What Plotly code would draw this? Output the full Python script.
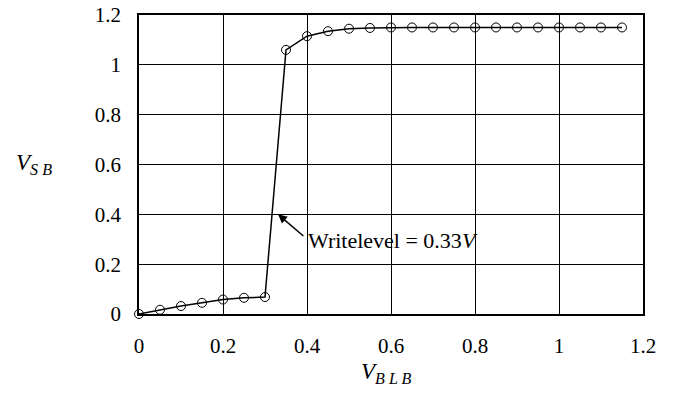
import plotly.graph_objects as go

x_vals = [0, 0.05, 0.1, 0.15, 0.2, 0.25, 0.3, 0.35, 0.4, 0.45, 0.5, 0.55, 0.6,
          0.65, 0.7, 0.75, 0.8, 0.85, 0.9, 0.95, 1.0, 1.05, 1.1, 1.15]
y_vals = [0.0, 0.017, 0.032, 0.045, 0.058, 0.065, 0.068, 1.06, 1.115, 1.135, 1.145, 1.148, 1.15,
          1.15, 1.15, 1.15, 1.15, 1.15, 1.15, 1.15, 1.15, 1.15, 1.15, 1.15]
x_ticks = [0, 0.2, 0.4, 0.6, 0.8, 1, 1.2]
y_ticks = [0, 0.2, 0.4, 0.6, 0.8, 1, 1.2]
x_tick_labels = ["0", "0.2", "0.4", "0.6", "0.8", "1", "1.2"]
y_tick_labels = ["0", "0.2", "0.4", "0.6", "0.8", "1", "1.2"]

FONT = "Liberation Serif"
OFF = 8  # page body margin
W, H = 675 - 2 * OFF, 395 - 2 * OFF
L, T = 139 - OFF, 15 - OFF
PW, PH = 504, 299
R, B = W - L - PW, H - T - PH


def px(xp):
    return (xp - OFF - L) / PW


def py(yp):
    return (H - B - (yp - OFF)) / PH


fig = go.Figure()
fig.add_trace(go.Scatter(
    x=x_vals, y=y_vals, mode="lines+markers",
    line=dict(color="black", width=1.5),
    marker=dict(symbol="circle-open", size=9, color="black", line=dict(width=1)),
    showlegend=False, cliponaxis=False,
))

fig.update_xaxes(range=[0, 1.2], tickvals=x_ticks, ticktext=x_tick_labels,
                 showgrid=True, gridcolor="black", gridwidth=1,
                 showline=True, linecolor="black", linewidth=1.5, mirror=True,
                 zeroline=False, ticks="", ticklabelstandoff=12, automargin=False,
                 ticklabeloverflow="allow",
                 tickfont=dict(family=FONT, size=21, color="black"))
fig.update_yaxes(range=[0, 1.2], tickvals=y_ticks, ticktext=y_tick_labels,
                 showgrid=True, gridcolor="black", gridwidth=1,
                 showline=True, linecolor="black", linewidth=1.5, mirror=True,
                 zeroline=False, ticks="", ticklabelstandoff=12, automargin=False,
                 ticklabeloverflow="allow",
                 tickfont=dict(family=FONT, size=21, color="black"))

fig.add_annotation(x=0.331, y=0.40, ax=0.395, ay=0.308, axref="x", ayref="y",
                   xref="x", yref="y", text="", showarrow=True,
                   arrowhead=2, arrowsize=1.2, arrowwidth=1.5, arrowcolor="black")
fig.add_annotation(x=0.397, y=0.296, xref="x", yref="y", xanchor="left", yanchor="middle",
                   text="Writelevel = 0.33<i>V</i>", showarrow=False,
                   font=dict(family=FONT, size=22, color="black"))
fig.add_annotation(x=px(14), y=py(148), xref="paper", yref="paper",
                   xanchor="left", yanchor="top",
                   text="<i>V</i><sub><i>S B</i></sub>",
                   showarrow=False, font=dict(family=FONT, size=23, color="black"))
fig.add_annotation(x=px(359), y=py(357), xref="paper", yref="paper",
                   xanchor="left", yanchor="top",
                   text="<i>V</i><sub><i>B L B</i></sub>",
                   showarrow=False, font=dict(family=FONT, size=23, color="black"))

fig.update_layout(width=W, height=H, margin=dict(l=L, r=R, t=T, b=B, autoexpand=False),
                  plot_bgcolor="white", paper_bgcolor="white",
                  font=dict(family=FONT, color="black"))
fig.write_html("out.html")
